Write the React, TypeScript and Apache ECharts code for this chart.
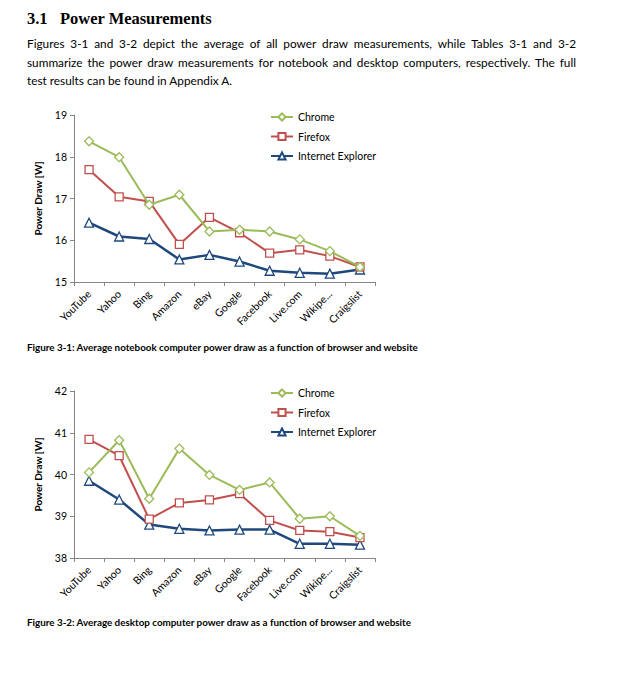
import React, { useEffect, useRef } from "react";
import * as echarts from "echarts";

const categories = ["YouTube", "Yahoo", "Bing", "Amazon", "eBay", "Google", "Facebook", "Live.com", "Wikipe...", "Craigslist"];
const seriesNames = ["Chrome", "Firefox", "Internet Explorer"];

const notebookChrome = [18.37, 17.99, 16.85, 17.09, 16.21, 16.25, 16.21, 16.02, 15.74, 15.36];
const notebookFirefox = [17.69, 17.04, 16.93, 15.9, 16.55, 16.18, 15.69, 15.77, 15.62, 15.36];
const notebookIE = [16.42, 16.09, 16.03, 15.54, 15.65, 15.49, 15.27, 15.22, 15.2, 15.3];

const desktopChrome = [40.05, 40.82, 39.42, 40.62, 39.99, 39.63, 39.81, 38.94, 39.0, 38.53];
const desktopFirefox = [40.84, 40.45, 38.93, 39.32, 39.39, 39.54, 38.9, 38.66, 38.63, 38.49];
const desktopIE = [39.85, 39.4, 38.8, 38.7, 38.66, 38.68, 38.68, 38.34, 38.34, 38.32];

const notebookRange = [15, 19];
const desktopRange = [38, 42];
const yAxisTitle = "Power Draw [W]";

const headingNumber = "3.1";
const headingTitle = "Power Measurements";
const paragraphLines = [
  "Figures 3-1 and 3-2 depict the average of all power draw measurements, while Tables 3-1 and 3-2",
  "summarize the power draw measurements for notebook and desktop computers, respectively. The full",
  "test results can be found in Appendix A.",
];
const caption1 = "Figure 3-1: Average notebook computer power draw as a function of browser and website";
const caption2 = "Figure 3-2: Average desktop computer power draw as a function of browser and website";

const COLORS = ["#9BBB59", "#C0504D", "#1F497D"];
const SYMBOLS = ["diamond", "rect", "triangle"];
const SYMBOL_SIZES = [9, 8, 9];
const LINE_W = [2, 2, 2.5];
const BODY_FONT = "Lato";
const AXIS_COLOR = "#868686";

let ctx: CanvasRenderingContext2D | null = null;
function measure(text: string, font: string): number {
  if (!ctx) ctx = document.createElement("canvas").getContext("2d");
  if (!ctx) return text.length * 6;
  ctx.font = font;
  return ctx.measureText(text).width;
}

function fitSize(text: string, weight: string, family: string, target: number): number {
  const w = measure(text, `${weight} 20px ${family}`);
  return (20 * target) / w;
}

function justifiedLine(line: string, x: number, y: number, width: number, size: number, justify: boolean): any[] {
  const font = `normal ${size}px ${BODY_FONT}`;
  const style = { fontFamily: BODY_FONT, fontSize: size, fill: "#000", textVerticalAlign: "middle" };
  if (!justify) {
    return [{ type: "text", x, y, style: { ...style, text: line } }];
  }
  const words = line.split(" ");
  const wordsW = words.map((w) => measure(w, font));
  const total = wordsW.reduce((a, b) => a + b, 0);
  const gap = (width - total) / (words.length - 1);
  const els: any[] = [];
  let cx = x;
  words.forEach((w, i) => {
    els.push({ type: "text", x: cx, y, style: { ...style, text: w } });
    cx += wordsW[i] + gap;
  });
  return els;
}

function App() {
  const ref = useRef<HTMLDivElement>(null);
  useEffect(() => {
    if (!ref.current) return;
    const chart = echarts.init(ref.current, null, { renderer: "svg" });

    const paraSize = fitSize(paragraphLines[2], "normal", BODY_FONT, 206);
    const capSize = fitSize(caption1, "bold", BODY_FONT, 393);
    const headSize = fitSize(headingTitle, "bold", "Liberation Serif", 152);

    const graphics: any[] = [
      { type: "text", x: 27, y: 18.5, style: { text: headingNumber, fontFamily: "Liberation Serif", fontWeight: "bold", fontSize: headSize, fill: "#000", textVerticalAlign: "middle" } },
      { type: "text", x: 60, y: 18.5, style: { text: headingTitle, fontFamily: "Liberation Serif", fontWeight: "bold", fontSize: headSize, fill: "#000", textVerticalAlign: "middle" } },
      ...justifiedLine(paragraphLines[0], 27, 43.5, 549, paraSize, true),
      ...justifiedLine(paragraphLines[1], 27, 62, 549, paraSize, true),
      ...justifiedLine(paragraphLines[2], 27, 80.5, 549, paraSize, false),
      { type: "text", x: 27, y: 347, style: { text: caption1, fontFamily: BODY_FONT, fontWeight: "bold", fontSize: capSize, fill: "#000", textVerticalAlign: "middle" } },
      { type: "text", x: 27, y: 622, style: { text: caption2, fontFamily: BODY_FONT, fontWeight: "bold", fontSize: capSize, fill: "#000", textVerticalAlign: "middle" } },
    ];

    const grids = [
      { left: 74, top: 115, width: 301, height: 167 },
      { left: 74, top: 391, width: 301, height: 167 },
    ];
    const ranges = [notebookRange, desktopRange];
    const data = [
      [notebookChrome, notebookFirefox, notebookIE],
      [desktopChrome, desktopFirefox, desktopIE],
    ];

    const xAxis = grids.map((_, i) => ({
      type: "category",
      gridIndex: i,
      data: categories,
      boundaryGap: true,
      axisLine: { show: true, lineStyle: { color: AXIS_COLOR, width: 1 } },
      axisTick: { show: true, length: 4, interval: 0, alignWithLabel: false, lineStyle: { color: AXIS_COLOR } },
      axisLabel: { interval: 0, rotate: 45, margin: 10, fontSize: 10.5, fontFamily: BODY_FONT, color: "#000" },
      splitLine: { show: false },
    }));
    const yAxis = grids.map((_, i) => ({
      type: "value",
      gridIndex: i,
      min: ranges[i][0],
      max: ranges[i][1],
      interval: 1,
      name: yAxisTitle,
      nameLocation: "middle",
      nameRotate: 90,
      nameGap: 31,
      nameTextStyle: { fontFamily: BODY_FONT, fontWeight: "bold", fontSize: 10, color: "#000" },
      axisLine: { show: true, lineStyle: { color: AXIS_COLOR, width: 1 } },
      axisTick: { show: true, length: 4, lineStyle: { color: AXIS_COLOR } },
      axisLabel: { margin: 7, fontSize: 10.5, fontFamily: BODY_FONT, color: "#000" },
      splitLine: { show: false },
    }));

    const series: any[] = [];
    data.forEach((set, gi) => {
      set.forEach((vals, si) => {
        series.push({
          type: "line",
          name: seriesNames[si],
          xAxisIndex: gi,
          yAxisIndex: gi,
          data: vals,
          symbol: SYMBOLS[si],
          symbolSize: SYMBOL_SIZES[si],
          showAllSymbol: true,
          lineStyle: { color: COLORS[si], width: LINE_W[si] },
          itemStyle: { color: "#fff", borderColor: COLORS[si], borderWidth: 1.3 },
          emphasis: { disabled: true },
          z: 10 - si,
        });
      });
    });

    const legendTops = [111.5, 387.5];
    const legend = legendTops.map((top) => ({
      data: seriesNames,
      orient: "vertical",
      left: 270,
      top,
      itemWidth: 22,
      itemHeight: 9,
      itemGap: 8.5,
      padding: 0,
      selectedMode: false,
      textStyle: { fontFamily: BODY_FONT, fontSize: 10.5, color: "#000", lineHeight: 9 },
    }));

    chart.setOption({
      animation: false,
      backgroundColor: "#fff",
      grid: grids,
      xAxis,
      yAxis,
      series,
      legend,
      graphic: graphics,
    });
    return () => chart.dispose();
  }, []);

  return <div ref={ref} style={{ position: "absolute", left: 0, top: 0, width: 626, height: 682 }} />;
}

export default App;
